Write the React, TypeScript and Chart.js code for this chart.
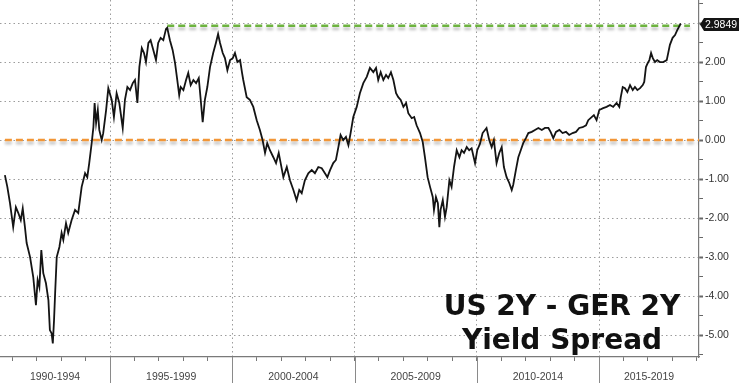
import React, { useEffect, useRef } from "react";
import { Chart, registerables } from "chart.js";

Chart.register(...registerables);

// Decimal years
const years = [
  1990.70, 1990.80, 1990.91, 1991.04, 1991.15, 1991.25, 1991.35, 1991.43, 1991.52, 1991.59,
  1991.73, 1991.86, 1991.97, 1992.04, 1992.11, 1992.19, 1992.27, 1992.38, 1992.48, 1992.54,
  1992.61, 1992.66, 1992.71, 1992.76, 1992.82, 1992.93, 1993.02, 1993.09, 1993.20, 1993.29,
  1993.43, 1993.57, 1993.70, 1993.84, 1993.98, 1994.07, 1994.15, 1994.25, 1994.32, 1994.37,
  1994.43, 1994.50, 1994.56, 1994.66, 1994.72, 1994.84, 1994.93, 1995.07, 1995.16, 1995.27,
  1995.38, 1995.52, 1995.61, 1995.71, 1995.82, 1995.93, 1996.02, 1996.12, 1996.20, 1996.30,
  1996.39, 1996.47, 1996.57, 1996.66, 1996.77, 1996.88, 1996.97, 1997.07, 1997.18, 1997.29,
  1997.34, 1997.45, 1997.56, 1997.66, 1997.75, 1997.83, 1997.89, 1998.00, 1998.11, 1998.20,
  1998.30, 1998.41, 1998.52, 1998.63, 1998.71, 1998.79, 1998.88, 1998.98, 1999.09, 1999.22,
  1999.33, 1999.42, 1999.50, 1999.61, 1999.70, 1999.80, 1999.91, 2000.02, 2000.11, 2000.21,
  2000.32, 2000.40, 2000.45, 2000.59, 2000.72, 2000.86, 2001.00, 2001.13, 2001.24, 2001.34,
  2001.43, 2001.54, 2001.68, 2001.79, 2001.90, 2001.98, 2002.09, 2002.23, 2002.36, 2002.50,
  2002.63, 2002.74, 2002.84, 2002.97, 2003.11, 2003.25, 2003.38, 2003.52, 2003.66, 2003.79,
  2003.89, 2004.00, 2004.13, 2004.24, 2004.34, 2004.43, 2004.54, 2004.65, 2004.75, 2004.84,
  2004.95, 2005.09, 2005.22, 2005.36, 2005.50, 2005.63, 2005.77, 2005.88, 2005.97, 2006.07,
  2006.18, 2006.29, 2006.38, 2006.49, 2006.59, 2006.70, 2006.79, 2006.89, 2007.00, 2007.11,
  2007.20, 2007.34, 2007.44, 2007.54, 2007.68, 2007.79, 2007.88, 2007.99, 2008.09, 2008.20,
  2008.25, 2008.33, 2008.41, 2008.47, 2008.52, 2008.61, 2008.70, 2008.77, 2008.88, 2008.97,
  2009.07, 2009.18, 2009.29, 2009.38, 2009.48, 2009.59, 2009.69, 2009.79, 2009.93, 2010.02,
  2010.13, 2010.24, 2010.40, 2010.51, 2010.61, 2010.70, 2010.81, 2010.92, 2011.02, 2011.11,
  2011.22, 2011.33, 2011.43, 2011.49, 2011.60, 2011.70, 2011.80, 2011.90, 2012.01, 2012.11,
  2012.25, 2012.38, 2012.52, 2012.66, 2012.79, 2012.93, 2013.02, 2013.13, 2013.24, 2013.38,
  2013.51, 2013.65, 2013.78, 2013.92, 2014.06, 2014.19, 2014.33, 2014.47, 2014.56, 2014.70,
  2014.79, 2014.90, 2015.01, 2015.17, 2015.31, 2015.45, 2015.58, 2015.72, 2015.83, 2015.89,
  2015.97, 2016.06, 2016.16, 2016.27, 2016.38, 2016.47, 2016.57, 2016.68, 2016.79, 2016.85,
  2016.92, 2016.99, 2017.06, 2017.13, 2017.20, 2017.29, 2017.38, 2017.49, 2017.63, 2017.77,
  2017.83, 2017.90, 2018.01, 2018.11, 2018.20, 2018.31, 2018.35,
];

// US 2Y - GER 2Y spread (percentage points)
const spread = [
  -0.90, -1.20, -1.62, -2.23, -1.72, -1.87, -2.05, -1.75, -2.23, -2.64,
  -3.00, -3.51, -4.23, -3.59, -3.77, -2.82, -3.41, -3.67, -4.10, -4.87,
  -4.95, -5.21, -4.62, -3.85, -3.00, -2.74, -2.38, -2.56, -2.13, -2.38,
  -2.05, -1.79, -1.87, -1.20, -0.85, -0.95, -0.59, -0.08, 0.33, 0.95,
  0.44, 0.77, 0.26, 0.00, 0.17, 0.77, 1.33, 1.03, 0.59, 1.20,
  0.95, 0.31, 1.03, 1.36, 1.28, 1.46, 1.54, 0.95, 1.87, 2.36,
  2.23, 2.00, 2.49, 2.56, 2.31, 2.05, 2.49, 2.62, 2.56, 2.85,
  2.88, 2.56, 2.31, 1.97, 1.54, 1.15, 1.36, 1.28, 1.54, 1.72,
  1.41, 1.54, 1.46, 1.59, 1.03, 0.46, 1.03, 1.36, 1.87, 2.23,
  2.49, 2.72, 2.49, 2.23, 2.10, 1.79, 2.05, 2.10, 2.23, 2.00,
  2.05, 1.72, 1.54, 1.10, 1.03, 0.85, 0.51, 0.26, 0.00, -0.33,
  -0.08, -0.26, -0.44, -0.59, -0.33, -0.59, -0.95, -0.69, -1.03, -1.28,
  -1.54, -1.28, -1.36, -1.03, -0.85, -0.77, -0.85, -0.69, -0.72, -0.85,
  -0.95, -0.77, -0.59, -0.51, -0.18, 0.13, 0.00, 0.08, -0.13, 0.18,
  0.59, 0.85, 1.20, 1.46, 1.62, 1.85, 1.74, 1.85, 1.54, 1.74,
  1.54, 1.67, 1.59, 1.74, 1.54, 1.20, 1.10, 1.03, 0.85, 0.95,
  0.69, 0.56, 0.59, 0.38, 0.18, -0.05, -0.44, -0.95, -1.20, -1.46,
  -1.79, -1.46, -1.62, -2.23, -1.79, -1.54, -1.97, -1.72, -1.03, -1.20,
  -0.69, -0.26, -0.44, -0.26, -0.33, -0.18, -0.26, -0.21, -0.59, -0.26,
  -0.10, 0.18, 0.31, 0.00, -0.18, 0.00, -0.59, -0.33, -0.18, -0.69,
  -0.95, -1.10, -1.28, -1.15, -0.77, -0.44, -0.26, -0.08, 0.05, 0.18,
  0.21, 0.26, 0.31, 0.26, 0.31, 0.31, 0.21, 0.05, 0.21, 0.26,
  0.18, 0.21, 0.13, 0.18, 0.21, 0.31, 0.33, 0.38, 0.51, 0.59,
  0.64, 0.51, 0.77, 0.82, 0.85, 0.90, 0.85, 0.95, 0.85, 1.10,
  1.36, 1.33, 1.23, 1.41, 1.28, 1.36, 1.28, 1.33, 1.41, 1.49,
  1.87, 1.97, 2.05, 2.23, 2.10, 2.00, 2.05, 2.00, 2.00, 2.05,
  2.23, 2.44, 2.62, 2.69, 2.82, 2.95, 2.9849,
];

const periodLabels = ["1990-1994", "1995-1999", "2000-2004", "2005-2009", "2010-2014", "2015-2019"];
const periodStarts = [1990, 1995, 2000, 2005, 2010, 2015];

const lastValue = 2.9849;
const highLevel = 2.93;
const highRange = [1997.34, 2018.72];
const zeroLevel = 0;
const zeroRange = [1990.7, 2019.09];

const X_MIN = 1990.5;
const X_MAX = 2019.09;
const Y_MIN = -5.56;
const Y_MAX = 3.59;

const FONT = '"Liberation Sans", Arial, sans-serif';
const TRANSPARENT = "rgba(0,0,0,0)";
const GRID = "#9c9c9c";

const periodCenters = periodStarts.map(
  (s) => (Math.max(s, X_MIN) + Math.min(s + 5, X_MAX)) / 2
);

const decorPlugin = {
  id: "decor",
  beforeDatasetDraw(chart: any, args: any) {
    const ds = chart.data.datasets[args.index];
    if (ds.glow) {
      const c = chart.ctx;
      c.save();
      c.shadowColor = "rgba(0,0,0,0.28)";
      c.shadowBlur = 3;
      c.shadowOffsetY = 3;
    }
  },
  afterDatasetDraw(chart: any, args: any) {
    const ds = chart.data.datasets[args.index];
    if (ds.glow) chart.ctx.restore();
  },
  afterDraw(chart: any) {
    const { ctx, chartArea, scales } = chart;
    const x = scales.x;
    const y = scales.y;
    ctx.save();
    // period separators below the axis
    ctx.strokeStyle = "#8a8a8a";
    ctx.lineWidth = 1;
    periodStarts.forEach((s) => {
      if (s > X_MIN && s < X_MAX) {
        const px = Math.round(x.getPixelForValue(s)) + 0.5;
        ctx.beginPath();
        ctx.moveTo(px, chartArea.bottom);
        ctx.lineTo(px, chart.height);
        ctx.stroke();
      }
    });
    // last value tag
    const py = y.getPixelForValue(lastValue) + 1;
    const left = chartArea.right + 1;
    const h = 6.5;
    ctx.fillStyle = "#151515";
    ctx.beginPath();
    ctx.moveTo(left, py);
    ctx.lineTo(left + 4, py - h);
    ctx.lineTo(chart.width - 1, py - h);
    ctx.lineTo(chart.width - 1, py + h);
    ctx.lineTo(left + 4, py + h);
    ctx.closePath();
    ctx.fill();
    ctx.fillStyle = "#ffffff";
    ctx.font = `10.5px ${FONT}`;
    ctx.textBaseline = "middle";
    ctx.textAlign = "left";
    ctx.fillText(lastValue.toFixed(4), left + 5, py + 0.5);
    ctx.restore();
  },
};

export default function App() {
  const canvasRef = useRef<HTMLCanvasElement | null>(null);

  useEffect(() => {
    document.body.style.margin = "0";
    const canvas = canvasRef.current;
    if (!canvas) return;

    const chart = new Chart(canvas, {
      type: "line",
      data: {
        datasets: [
          {
            label: "US 2Y - GER 2Y",
            data: years.map((yr, i) => ({ x: yr, y: spread[i] })),
            borderColor: "#141414",
            borderWidth: 1.8,
            pointRadius: 0,
            tension: 0,
            fill: false,
          },
          {
            label: "high",
            data: [
              { x: highRange[0], y: highLevel },
              { x: highRange[1], y: highLevel },
            ],
            borderColor: "#6db33f",
            borderWidth: 2.5,
            borderDash: [7, 4],
            pointRadius: 0,
            fill: false,
            glow: true,
          } as any,
          {
            label: "zero",
            data: [
              { x: zeroRange[0], y: zeroLevel },
              { x: zeroRange[1], y: zeroLevel },
            ],
            borderColor: "#f29637",
            borderWidth: 2.5,
            borderDash: [7, 4],
            pointRadius: 0,
            fill: false,
            glow: true,
          } as any,
        ],
      },
      options: {
        responsive: false,
        maintainAspectRatio: false,
        animation: false,
        layout: { padding: 0 },
        plugins: {
          legend: { display: false },
          tooltip: { enabled: false },
          title: { display: false },
        },
        scales: {
          x: {
            type: "linear",
            position: "bottom",
            min: X_MIN,
            max: X_MAX,
            afterBuildTicks(scale: any) {
              const t: any[] = [];
              for (let yr = Math.ceil(X_MIN); yr <= Math.floor(X_MAX); yr++) t.push({ value: yr });
              periodCenters.forEach((c) => t.push({ value: c }));
              t.sort((a, b) => a.value - b.value);
              scale.ticks = t;
            },
            afterFit(scale: any) {
              scale.height = 26;
              scale.paddingLeft = 0;
              scale.paddingRight = 0;
            },
            grid: {
              color: (ctx: any) => {
                const v = ctx.tick ? ctx.tick.value : NaN;
                return Number.isInteger(v) && v % 5 === 0 ? GRID : TRANSPARENT;
              },
              tickColor: (ctx: any) => {
                const v = ctx.tick ? ctx.tick.value : NaN;
                return Number.isInteger(v) ? "#777777" : TRANSPARENT;
              },
              lineWidth: 1,
              tickLength: 4,
              tickWidth: 1,
            },
            border: { display: true, color: "#7a7a7a", width: 1.2, dash: [1.5, 3] },
            ticks: {
              autoSkip: false,
              maxRotation: 0,
              minRotation: 0,
              padding: 10,
              color: "#444",
              font: { family: FONT, size: 10.5 },
              callback: (value: any) => {
                const i = periodCenters.findIndex((c) => Math.abs(c - Number(value)) < 1e-6);
                return i >= 0 ? periodLabels[i] : "";
              },
            },
          },
          y: {
            type: "linear",
            position: "right",
            min: Y_MIN,
            max: Y_MAX,
            afterBuildTicks(scale: any) {
              const t: any[] = [];
              for (let k = -11; k <= 7; k++) t.push({ value: k / 2 });
              scale.ticks = t;
            },
            afterFit(scale: any) {
              scale.width = 41;
              scale.paddingTop = 0;
              scale.paddingBottom = 0;
            },
            grid: {
              color: (ctx: any) => {
                const v = ctx.tick ? ctx.tick.value : NaN;
                return Number.isInteger(v) ? GRID : TRANSPARENT;
              },
              tickColor: "#666666",
              tickWidth: (ctx: any) => {
                const v = ctx.tick ? ctx.tick.value : NaN;
                return Number.isInteger(v) ? 2 : 1;
              },
              lineWidth: 1,
              tickLength: 4,
            },
            border: { display: true, color: "#7a7a7a", width: 1.2, dash: [1.5, 3] },
            ticks: {
              autoSkip: false,
              padding: 2,
              color: "#333",
              font: { family: FONT, size: 10.5 },
              callback: (value: any) => {
                const v = Number(value);
                return Number.isInteger(v) && v !== 3 ? v.toFixed(2) : "";
              },
            },
          },
        },
      },
      plugins: [decorPlugin],
    });

    return () => chart.destroy();
  }, []);

  return (
    <div
      style={{
        position: "fixed",
        left: 0,
        top: 0,
        width: 740,
        height: 383,
        background: "#ffffff",
        overflow: "hidden",
      }}
    >
      <canvas ref={canvasRef} width={740} height={383} style={{ width: 740, height: 383, display: "block" }} />
      <div
        style={{
          position: "absolute",
          left: 400,
          top: 289,
          width: 324,
          textAlign: "center",
          fontFamily: '"DejaVu Sans", Verdana, sans-serif',
          fontWeight: "bold",
          fontSize: 28,
          lineHeight: "34px",
          color: "#111",
          pointerEvents: "none",
        }}
      >
        US 2Y - GER 2Y
        <br />
        Yield Spread
      </div>
    </div>
  );
}
